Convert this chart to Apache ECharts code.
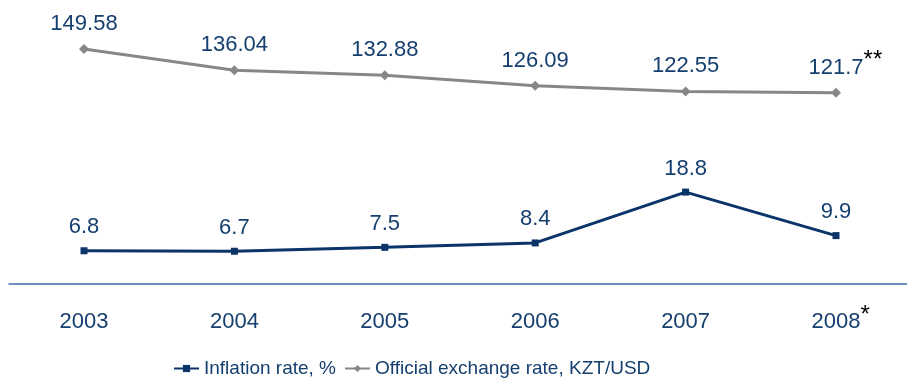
<!DOCTYPE html>
<html>
<head>
<meta charset="utf-8">
<script src="https://cdn.jsdelivr.net/npm/echarts@6/dist/echarts.min.js"></script>
<style>
  html, body { margin: 0; padding: 0; background: #fff; }
  #chart { width: 907px; height: 380px; }
</style>
</head>
<body>
<div id="chart"></div>
<script>
// Kazakhstan: inflation and tenge exchange rate, 2003-2008
const years = ['2003', '2004', '2005', '2006', '2007', '2008'];
const yearNotes = ['', '', '', '', '', '*'];
const inflation = [6.8, 6.7, 7.5, 8.4, 18.8, 9.9];
const exchangeRate = [149.58, 136.04, 132.88, 126.09, 122.55, 121.7];
const rateNotes = ['', '', '', '', '', '**'];

const NAVY_TEXT = '#153f6e';
const NAVY_LINE = '#0b3469';
const GREY_LINE = '#878787';
const FONT = '"Liberation Sans", Arial, sans-serif';
const STAR_W = 9.35; // advance of one footnote asterisk at 24px

const chart = echarts.init(document.getElementById('chart'));

// rich-text styles: a value, a raised footnote mark, and a spacer that keeps the value centred
function richStyles(noteLineHeight, notes) {
  return {
    v: { fontFamily: FONT, fontSize: 22, lineHeight: 38, color: NAVY_TEXT },
    s: { fontFamily: FONT, fontSize: 24, lineHeight: noteLineHeight, color: '#000', verticalAlign: 'top' },
    p: { width: STAR_W * Math.max.apply(null, notes.map(function (n) { return n.length; })) }
  };
}

function withNote(text, note) {
  if (!note) return '{v|' + text + '}';
  return '{p|}{v|' + text + '}{s|' + note + '}';
}

chart.setOption({
  animation: false,
  textStyle: { fontFamily: FONT },
  grid: [
    // plotting area: first and last year sit on its edges
    { left: 84, right: 71, top: 20, bottom: 96 },
    // full-width baseline
    { left: 9, right: 0, top: 20, bottom: 96 }
  ],
  legend: {
    left: 168,
    top: 354,
    itemWidth: 25,
    itemHeight: 9,
    itemGap: 8,
    textStyle: { fontFamily: FONT, fontSize: 19, color: NAVY_TEXT },
    data: ['Inflation rate, %', 'Official exchange rate, KZT/USD']
  },
  xAxis: [
    {
      type: 'category',
      gridIndex: 0,
      data: years,
      boundaryGap: false,
      axisLine: { show: false },
      axisTick: { show: false },
      axisLabel: {
        margin: 19,
        formatter: function (val, idx) { return withNote(val, yearNotes[idx]); },
        rich: richStyles(29, yearNotes)
      }
    },
    {
      type: 'value',
      gridIndex: 1,
      min: 0,
      max: 1,
      axisLine: { show: true, lineStyle: { color: '#3d6ea6', width: 1.5 } },
      axisTick: { show: false },
      axisLabel: { show: false },
      splitLine: { show: false }
    }
  ],
  yAxis: [
    { type: 'value', gridIndex: 0, min: 0, max: 54, show: false },
    { type: 'value', gridIndex: 0, min: 0, max: 168, show: false },
    { type: 'value', gridIndex: 1, min: 0, max: 1, show: false }
  ],
  series: [
    {
      name: 'Inflation rate, %',
      type: 'line',
      xAxisIndex: 0,
      yAxisIndex: 0,
      data: inflation,
      symbol: 'rect',
      symbolSize: 7,
      lineStyle: { color: NAVY_LINE, width: 3 },
      itemStyle: { color: NAVY_LINE },
      label: {
        show: true,
        position: 'top',
        distance: 1,
        formatter: function (p) { return '{v|' + p.value + '}'; },
        rich: richStyles(23, [''])
      }
    },
    {
      name: 'Official exchange rate, KZT/USD',
      type: 'line',
      xAxisIndex: 0,
      yAxisIndex: 1,
      data: exchangeRate,
      symbol: 'diamond',
      symbolSize: 10,
      lineStyle: { color: GREY_LINE, width: 3 },
      itemStyle: { color: GREY_LINE },
      label: {
        show: true,
        position: 'top',
        distance: 1,
        formatter: function (p) { return withNote(String(p.value), rateNotes[p.dataIndex]); },
        rich: richStyles(23, rateNotes)
      }
    }
  ]
});
</script>
</body>
</html>
